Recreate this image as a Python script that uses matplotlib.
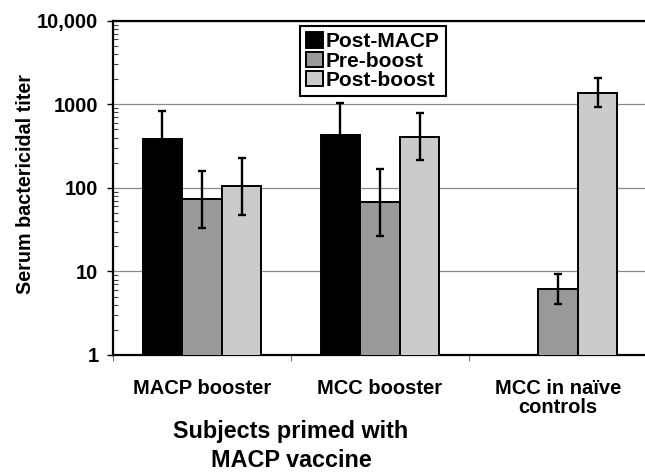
import numpy as np
import matplotlib
matplotlib.use("Agg")
import matplotlib.pyplot as plt
from matplotlib.ticker import FixedLocator, FixedFormatter, LogLocator, NullFormatter

plt.rcParams["font.family"] = ["Liberation Sans", "DejaVu Sans"]
plt.rcParams["font.weight"] = "bold"

# --- data ---
groups = ["MACP booster", "MCC booster", "MCC in na\u00efve\ncontrols"]
series = ["Post-MACP", "Pre-boost", "Post-boost"]
colors = ["#000000", "#999999", "#cbcbcb"]

post_macp = [381, 432, np.nan]
pre_boost = [74, 68, 6.2]
post_boost = [105, 409, 1375]

post_macp_lo = [170, 180, np.nan]
post_macp_hi = [837, 1044, np.nan]
pre_boost_lo = [33.4, 26.8, 4.08]
pre_boost_hi = [160, 167, 9.3]
post_boost_lo = [47.3, 213, 935]
post_boost_hi = [226, 780, 2044]

yticks = [1, 10, 100, 1000, 10000]
ytick_labels = ["1", "10", "100", "1000", "10,000"]

values = [post_macp, pre_boost, post_boost]
lows = [post_macp_lo, pre_boost_lo, post_boost_lo]
highs = [post_macp_hi, pre_boost_hi, post_boost_hi]

# --- figure ---
W, H = 645, 472
fig = plt.figure(figsize=(W / 100, H / 100), dpi=100)
ax = fig.add_axes([113 / W, 1 - 355 / H, 534 / W, (355 - 20.7) / H])

x = np.arange(len(groups))
width = 0.222
offsets = [-width, 0.0, width]

handles = []
for vals, lo, hi, col, off, name in zip(values, lows, highs, colors, offsets, series):
    vals = np.array(vals, dtype=float)
    lo = np.array(lo, dtype=float)
    hi = np.array(hi, dtype=float)
    b = ax.bar(x + off, vals, width, color=col, edgecolor="black",
               linewidth=1.4, zorder=3, label=name)
    handles.append(b)
    ok = ~np.isnan(vals)
    ax.errorbar((x + off)[ok], vals[ok],
                yerr=[vals[ok] - lo[ok], hi[ok] - vals[ok]],
                fmt="none", ecolor="black", elinewidth=1.7,
                capsize=3, capthick=1.7, zorder=4)

ax.set_yscale("log")
ax.set_ylim(1, 10000)
ax.set_xlim(-0.5, 2.5)

ax.yaxis.set_major_locator(FixedLocator(yticks))
ax.yaxis.set_major_formatter(FixedFormatter(ytick_labels))
ax.yaxis.set_minor_locator(LogLocator(base=10, subs=np.arange(2, 10)))
ax.yaxis.set_minor_formatter(NullFormatter())
ax.tick_params(axis="y", which="major", direction="out", length=4,
               width=1, pad=6.5, labelsize=14.5)
ax.tick_params(axis="y", which="minor", direction="in", length=3.5,
               width=0.8, color="#444444")

# category boundaries carry the tick marks, labels sit at centres
ax.set_xticks(np.arange(-0.5, 3.0, 1.0))
ax.set_xticklabels([])
ax.set_xticks(x, minor=True)
ax.set_xticklabels(groups, minor=True)
ax.tick_params(axis="x", which="major", direction="out", length=4.5,
               width=0.8, color="#777777")
ax.tick_params(axis="x", which="minor", length=0, pad=17.5, labelsize=14.5)
for lbl in ax.get_xticklabels(minor=True):
    lbl.set_linespacing(1.0)

ax.grid(True, axis="y", which="major", color="#8a8a8a", linewidth=0.9, zorder=0)
ax.set_axisbelow(True)
for s in ax.spines.values():
    s.set_linewidth(1.6)

ax.legend(handles, series, loc="upper left",
          bbox_to_anchor=(300 / W, 1 - 26 / H), bbox_transform=fig.transFigure,
          borderaxespad=0, fontsize=15, frameon=True, fancybox=False,
          edgecolor="black", framealpha=1, labelspacing=0.02,
          handlelength=0.8, handleheight=0.75, handletextpad=0.15,
          borderpad=0.3)
ax.get_legend().get_frame().set_linewidth(1.5)

fig.text(26 / W, 1 - 183.5 / H, "Serum bactericidal titer", rotation=90,
         ha="center", va="center", fontsize=14.2)
fig.text(291 / W, 1 - 420 / H, "Subjects primed with\nMACP vaccine",
         ha="center", va="top", fontsize=16.8, linespacing=1.34)

fig.savefig("out.png", dpi=100)
